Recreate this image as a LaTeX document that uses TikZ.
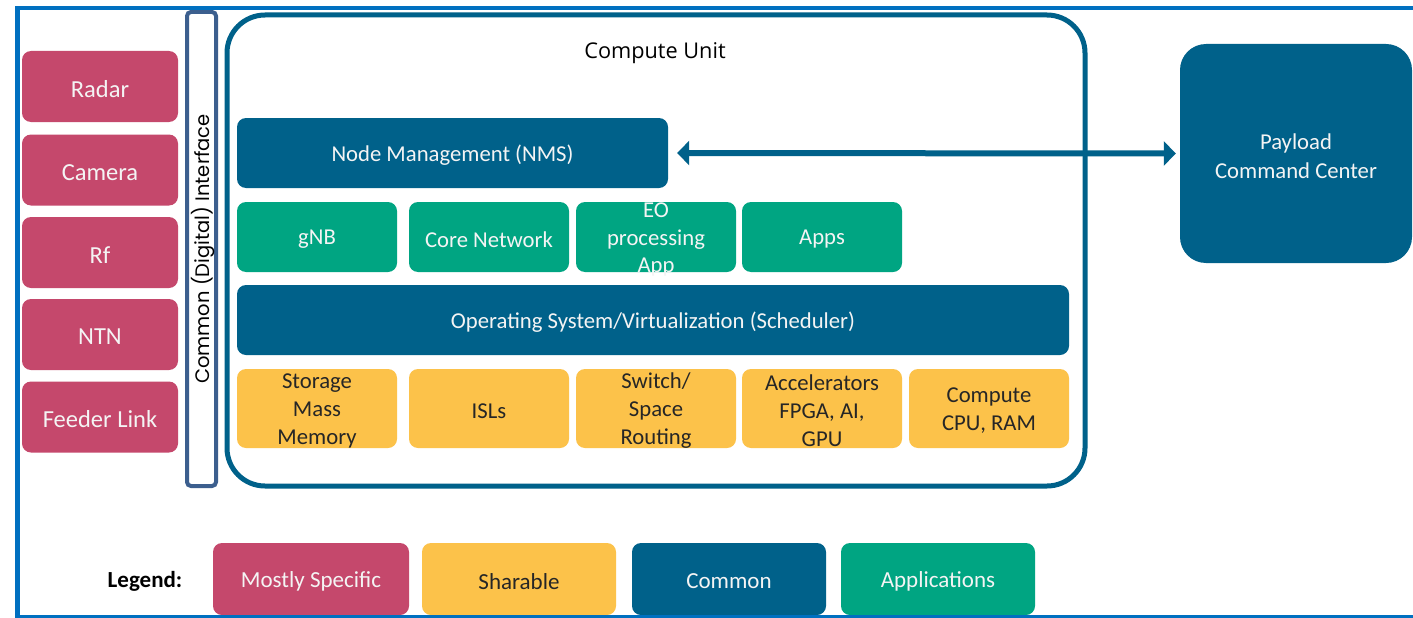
\documentclass[tikz,border=0pt]{standalone}
\usepackage{fontspec}
\setmainfont{Carlito}
\newfontfamily\osans{Open Sans}
\newfontfamily\popp{Poppins}
\usetikzlibrary{arrows.meta}
\definecolor{pinkc}{HTML}{C5486C}
\definecolor{yellc}{HTML}{FCC24A}
\definecolor{bluec}{HTML}{00618A}
\definecolor{greenc}{HTML}{00A582}
\definecolor{framec}{HTML}{0070C0}
\definecolor{ifc}{HTML}{3C5F8E}
\definecolor{txtlight}{HTML}{F4F4F4}
\definecolor{txtdark}{HTML}{262626}
\tikzset{
  box/.style={rounded corners=9pt, inner sep=0pt},
  lbase/.style={align=center, inner sep=0pt, yshift=-2.5pt, font=\fontsize{22.7}{28}\selectfont},
  lblL/.style={lbase, text=txtlight},
  lblD/.style={lbase, text=txtdark},
  tl/.style={label={[lblL]center:#1}},
  td/.style={label={[lblD]center:#1}},
  tp/.style={label={[lblL, font=\fontsize{24.5}{28}\selectfont]center:#1}},
  tg/.style={label={[lblL, font=\fontsize{23}{28}\selectfont]center:#1}},
  tgd/.style={label={[lblD, font=\fontsize{23}{28}\selectfont]center:#1}},
  pinkbox/.style={box, fill=pinkc, minimum width=156pt, minimum height=71pt},
  greenbox/.style={box, fill=greenc, minimum width=160pt, minimum height=70pt},
  yellbox/.style={box, fill=yellc, minimum width=160pt, minimum height=79pt},
  bluebox/.style={box, fill=bluec, minimum height=70pt},
  legbox/.style={box, minimum width=195pt, minimum height=72pt},
  biarrow/.style={draw=bluec, line width=6pt, {Triangle[length=12pt,width=24pt]}-{Triangle[length=12pt,width=24pt]}}
}
\begin{document}
\begin{tikzpicture}[x=1pt,y=-1pt]
\useasboundingbox (0,0) rectangle (1413,618);
\fill[white] (0,0) rectangle (1413,618);

% left sensor boxes
\node[pinkbox, tp=Radar] (radar) at (100,86.5) {};
\node[pinkbox, tp=Camera] (camera) at (100,170) {};
\node[pinkbox, tp=Rf] (rf) at (100,252.5) {};
\node[pinkbox, tp=NTN] (ntn) at (100,334.5) {};
\node[pinkbox, tp={Feeder Link}] (feeder) at (100,417) {};

% interface
\node[draw=ifc, line width=4pt, rounded corners=4pt, minimum width=29pt, minimum height=474pt, inner sep=0pt] (iface) at (201.5,249) {};
\node[rotate=90, font=\popp\fontsize{19.5}{22}\selectfont, text=black] (ifacetxt) at (203.5,249) {Common (Digital) Interface};

% compute unit
\node[draw=bluec, line width=5pt, rounded corners=38pt, minimum width=858pt, minimum height=471pt, inner sep=0pt] (cu) at (656,250.5) {};
\node[font=\osans\fontsize{21.7}{24}\selectfont, text=black] (cutitle) at (655,53) {Compute Unit};

\node[bluebox, minimum width=431pt, tl={Node Management (NMS)}] (nms) at (452.5,153) {};

\node[greenbox, tl=gNB] (gnb) at (317,237) {};
\node[greenbox, tl={Core Network}] (core) at (489,237) {};
\node[greenbox, label={[lblL, font=\fontsize{22.7}{27.5}\selectfont]center:{EO\\processing\\App}}] (eo) at (656,237) {};
\node[greenbox, tl=Apps] (apps) at (822,237) {};

\node[bluebox, minimum width=832pt, tl={Operating System/Virtualization (Scheduler)}] (os) at (653,320) {};

\node[yellbox, td={Storage\\Mass\\Memory}] (storage) at (317,408.5) {};
\node[yellbox, td=ISLs] (isl) at (489,408.5) {};
\node[yellbox, td={Switch/\\Space\\Routing}] (switch) at (656,408.5) {};
\node[yellbox, td={Accelerators\\FPGA, AI,\\GPU}] (accel) at (822,408.5) {};
\node[yellbox, td={Compute\\CPU, RAM}] (comp) at (989,408.5) {};

% payload command center
\node[box, fill=bluec, rounded corners=26pt, minimum width=232pt, minimum height=219pt, label={[lblL, font=\fontsize{22.7}{29}\selectfont]center:{Payload\\Command Center}}] (pcc) at (1296,153.5) {};

\draw[biarrow] ([xshift=9pt]nms.east) -- ([xshift=-4pt]pcc.west);

% legend
\node[font=\bfseries\fontsize{23}{25}\selectfont, text=black] (legend) at (145,581.5) {Legend:};
\node[legbox, fill=pinkc, minimum width=196pt, tg={Mostly Specific}] (lspec) at (311,579) {};
\node[legbox, fill=yellc, minimum width=194pt, tgd=Sharable] (lshare) at (519,579) {};
\node[legbox, fill=bluec, minimum width=194pt, tg=Common] (lcommon) at (729,579) {};
\node[legbox, fill=greenc, minimum width=194pt, tg=Applications] (lapps) at (938,579) {};

% outer frame
\draw[framec, line width=4.5pt] (1413,8) -- (17.5,8) -- (17.5,617) -- (1413,617);
\end{tikzpicture}
\end{document}
